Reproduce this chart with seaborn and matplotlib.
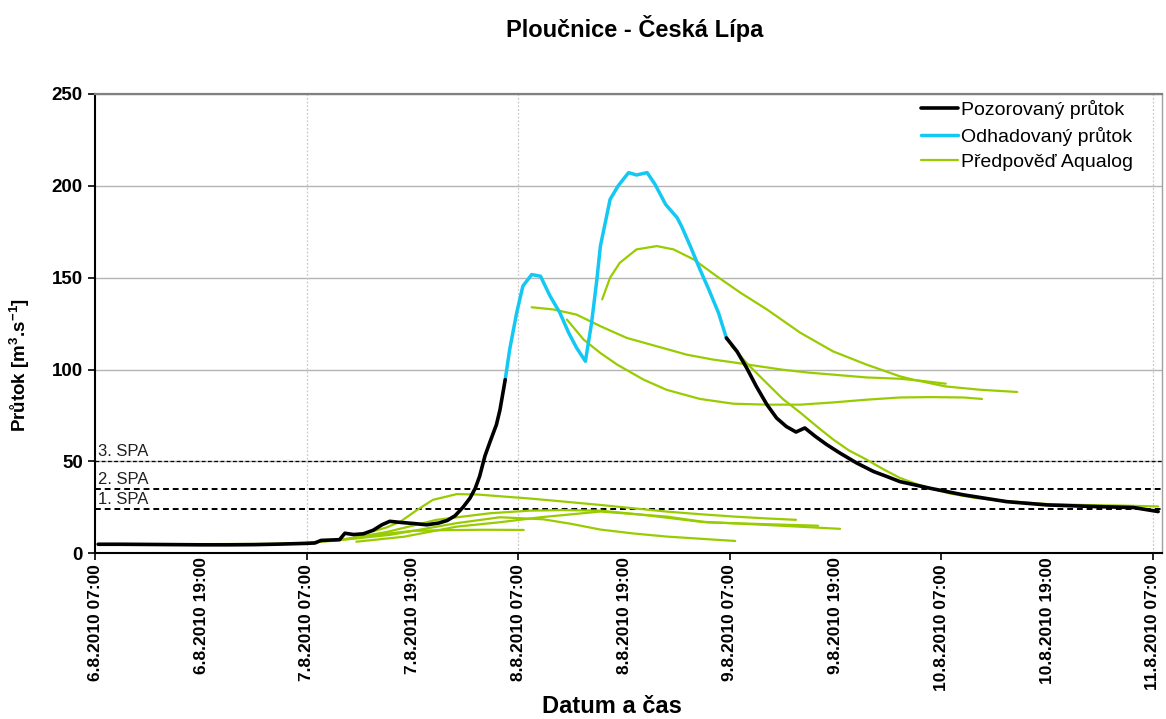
import matplotlib
matplotlib.use('Agg')
import matplotlib.pyplot as plt
import matplotlib.ticker as mticker
import matplotlib.dates as mdates
from matplotlib.lines import Line2D
import seaborn as sns
import pandas as pd

# Start of the time axis (6.8.2010 07:00); all times below are hours from it
START = pd.Timestamp('2010-08-06 07:00')

# Observed flow (black), two segments around the estimated part
obs1_h = [0.3, 3, 6, 9, 12, 15, 18, 21, 24, 24.9, 25.6, 27.7, 28.3, 29.3, 30.4, 31.5,
          32.5, 33.4, 34.6, 36.1, 37.6, 38.9, 39.9, 40.8, 41.7, 42.5, 43.1, 43.6,
          44.2, 44.8, 45.5, 45.9, 46.5]
obs1_q = [4.9, 4.9, 4.8, 4.7, 4.6, 4.6, 4.7, 5.0, 5.4, 5.6, 7.0, 7.4, 10.9, 10.2, 10.6, 12.5,
          15.5, 17.4, 16.8, 16.2, 15.5, 16.4, 17.8, 20.4, 25.0, 30.0, 35.4, 42.0,
          53.0, 61.0, 70.0, 78.0, 94.5]
obs2_h = [71.6, 72.8, 73.9, 75.0, 76.2, 77.3, 78.4, 79.5, 80.5, 81.7, 83.0, 84.5, 86.4,
          88.3, 89.8, 91.3, 94.7, 98.5, 103.4, 108.0, 113.6, 117.8, 120.6]
obs2_q = [117.2, 109.9, 100.9, 90.8, 80.9, 73.6, 69.0, 66.0, 68.2, 63.6, 59.1, 54.5, 49.1,
          44.5, 41.8, 39.0, 35.4, 31.8, 28.1, 26.3, 25.4, 24.9, 22.7]

# Estimated flow (light blue)
est_h = [46.5, 47.0, 47.8, 48.5, 49.5, 50.5, 51.6, 52.7, 53.7, 54.6, 55.6, 56.3, 56.9,
         57.3, 58.4, 59.3, 60.5, 61.4, 62.6, 63.5, 64.7, 66.0, 66.5, 67.5, 68.6, 69.6,
         70.7, 71.6]
est_q = [94.5, 110.8, 130.9, 145.4, 151.7, 150.8, 139.9, 130.9, 120.0, 111.8, 104.5, 125.4,
         149.0, 167.2, 192.6, 199.9, 207.2, 205.9, 207.2, 200.8, 189.9, 182.7, 178.1,
         167.2, 154.5, 143.6, 130.9, 117.2]

# Aqualog forecasts (green)
fc1_h = [0.3, 12, 20, 24, 27, 30, 33, 36, 40, 44, 48.6]
fc1_q = [5.0, 5.0, 5.1, 5.7, 6.8, 8.5, 10.6, 12.2, 12.6, 12.8, 12.7]
fc2_h = [24.5, 29, 33.4, 37, 41, 45.9, 50.8, 54, 57.3, 61, 64.8, 69, 72.6]
fc2_q = [6.0, 7.8, 10.0, 13.0, 16.4, 19.6, 18.5, 16.0, 12.9, 10.8, 9.1, 7.8, 6.7]
fc3_h = [31.5, 33, 34.6, 36.5, 38.3, 41, 43.3, 46, 49.3, 53, 57.3, 61, 64.8, 68.5,
         72.4, 76, 79.5]
fc3_q = [12.0, 14.0, 17.2, 23.6, 29.1, 32.2, 32.0, 31.0, 29.8, 28.2, 26.3, 24.5, 22.7,
         21.3, 20.0, 19.0, 18.2]
fc4_h = [28, 33, 38.7, 44.8, 49.3, 53, 57.3, 62, 68.6, 76.2, 84.5]
fc4_q = [7.5, 11.5, 18.2, 21.8, 23.2, 23.5, 23.2, 21.0, 17.2, 15.4, 13.3]
fc5_h = [29.6, 35, 41, 45.9, 50.5, 57.3, 64.8, 69.4, 75, 82]
fc5_q = [6.3, 9.0, 14.5, 16.9, 19.6, 22.7, 20.0, 16.8, 16.0, 15.0]
fc6_h = [49.5, 52.0, 54.6, 57.3, 60.3, 63.0, 67.1, 70, 72.4, 75, 78.0, 81, 83.8, 87.5,
         91.3, 93.5, 96.5]
fc6_q = [133.9, 132.7, 129.9, 123.6, 117.2, 113.6, 108.1, 105.5, 103.9, 102, 99.9, 98.3,
         97.2, 95.7, 95.0, 94.0, 92.3]
fc7_h = [53.5, 55.4, 57.3, 59.2, 62.2, 64.8, 68.6, 72.4, 76.2, 80.0, 83.7, 87.5, 91.3,
         94.8, 98.5, 100.6]
fc7_q = [127.2, 116.3, 109.0, 102.7, 94.5, 89.0, 84.0, 81.4, 80.9, 80.9, 82.1, 83.6, 84.8,
         85.0, 84.8, 84.0]
fc8_h = [57.5, 58.4, 59.5, 61.4, 63.7, 65.6, 67.9, 70.5, 73.2, 76.2, 80.0, 83.7, 87.5,
         91.3, 92.8, 96.5, 100.4, 104.6]
fc8_q = [138.2, 150.0, 158.1, 165.4, 167.2, 165.4, 159.9, 150.8, 141.8, 132.7, 120.0, 109.9,
         102.7, 96.3, 94.5, 90.8, 89.0, 87.8]
fc9_h = [72.2, 74, 76.2, 78, 80.0, 82, 83.7, 85.5, 87.5, 89.5, 91.3, 93, 94.7, 97, 100,
         104, 108, 112, 116, 120.6]
fc9_q = [112.7, 103, 92.5, 84, 76.5, 68.5, 62.0, 56, 51.0, 45.5, 41.0, 38, 35.4, 32.5, 30.0,
         28.2, 26.8, 26.3, 26.0, 25.5]

# Flood activity levels (SPA)
spa_levels = [24, 35, 50]
spa_labels = ['1. SPA', '2. SPA', '3. SPA']

# Dates with a vertical guide line
guide_times = ['2010-08-07 07:00', '2010-08-08 07:00', '2010-08-11 07:00']

legend_labels = ['Pozorovaný průtok', 'Odhadovaný průtok', 'Předpověď Aqualog']


def frame(runs):
    parts = []
    for i, (h, q) in enumerate(runs):
        parts.append(pd.DataFrame({'time': START + pd.to_timedelta(h, unit='h'),
                                   'flow': q, 'run': i}))
    return pd.concat(parts, ignore_index=True)


obs_df = frame([(obs1_h, obs1_q), (obs2_h, obs2_q)])
est_df = frame([(est_h, est_q)])
fc_df = frame([(fc1_h, fc1_q), (fc2_h, fc2_q), (fc3_h, fc3_q), (fc4_h, fc4_q),
               (fc5_h, fc5_q), (fc6_h, fc6_q), (fc7_h, fc7_q), (fc8_h, fc8_q),
               (fc9_h, fc9_q)])

sns.set_style('white')
plt.rcParams['font.family'] = ['Liberation Sans', 'DejaVu Sans']
plt.rcParams['text.color'] = 'black'
plt.rcParams['xtick.color'] = 'black'
plt.rcParams['ytick.color'] = 'black'
plt.rcParams['mathtext.fontset'] = 'custom'
plt.rcParams['mathtext.bf'] = 'Liberation Sans:bold'
plt.rcParams['mathtext.rm'] = 'Liberation Sans'

GREEN = '#99CC00'
BLUE = '#14C8F4'

fig = plt.figure(figsize=(11.66, 7.19), dpi=100)
ax = fig.add_axes([0.0819, 0.2305, 0.9144, 0.6388])

sns.lineplot(data=fc_df, x='time', y='flow', units='run', estimator=None, sort=False,
             color=GREEN, linewidth=1.6, ax=ax, zorder=3)
sns.lineplot(data=est_df, x='time', y='flow', units='run', estimator=None, sort=False,
             color=BLUE, linewidth=2.5, ax=ax, zorder=4)
sns.lineplot(data=obs_df, x='time', y='flow', units='run', estimator=None, sort=False,
             color='black', linewidth=2.6, ax=ax, zorder=5)

# horizontal grid
ax.set_ylim(0, 250)
ax.set_yticks([0, 50, 100, 150, 200, 250])
ax.yaxis.grid(True, color='#b4b4b4', linewidth=1)
ax.xaxis.grid(False)
for t in guide_times:
    ax.axvline(pd.Timestamp(t), color='#c8c8c8', linestyle=(0, (1.5, 1.5)), linewidth=0.9,
               zorder=1)

# SPA levels
for lvl, lab in zip(spa_levels, spa_labels):
    lw = 0.9 if lvl == 50 else 1.4
    ax.axhline(lvl, color='black', linestyle=(0, (3, 2)), linewidth=lw, zorder=2)
    ax.annotate(lab, xy=(0, lvl), xycoords=('axes fraction', 'data'),
                xytext=(1.5, 1.5), textcoords='offset points', fontsize=12,
                color='#202020', va='bottom', ha='left', zorder=6)

# x axis
ax.set_xlim(START, START + pd.Timedelta(hours=121))
major = [START + pd.Timedelta(hours=24 * k) for k in range(6)]
minor = [START + pd.Timedelta(hours=12 + 24 * k) for k in range(5)]
ax.set_xticks(major)
ax.set_xticks(minor, minor=True)


def fmt_date(x, pos=None):
    d = mdates.num2date(x)
    return f'{d.day}.{d.month}.{d.year} {d:%H:%M}'


ax.xaxis.set_major_formatter(mticker.FuncFormatter(fmt_date))
ax.xaxis.set_minor_formatter(mticker.FuncFormatter(fmt_date))
ax.tick_params(axis='x', which='both', rotation=90, labelsize=12.5, pad=3)
ax.tick_params(axis='x', which='major', length=5, width=1.2, color='black', direction='out',
               bottom=True)
ax.tick_params(axis='x', which='minor', length=0, bottom=True)
ax.tick_params(axis='y', length=5, width=1.2, color='black', direction='out', left=True,
               labelsize=13.5, pad=4)
for lab in ax.get_xticklabels(which='both') + ax.get_yticklabels():
    lab.set_fontweight('bold')

ax.set_xlabel('')
ax.set_ylabel('')

for side in ['left', 'bottom']:
    ax.spines[side].set_color('black')
    ax.spines[side].set_linewidth(1.5)
ax.spines['top'].set_color('#808080')
ax.spines['top'].set_linewidth(1.6)
ax.spines['right'].set_color('#a0a0a0')
ax.spines['right'].set_linewidth(1.0)

handles = [Line2D([], [], color='black', linewidth=2.6),
           Line2D([], [], color=BLUE, linewidth=2.5),
           Line2D([], [], color=GREEN, linewidth=1.6)]
ax.legend(handles, legend_labels, loc='upper right', bbox_to_anchor=(0.984, 1.012),
          frameon=False, fontsize=14, handlelength=1.9, handletextpad=0.15,
          labelspacing=0.38, borderaxespad=0.2)

fig.text(0.5446, 0.961, 'Ploučnice - Česká Lípa', ha='center', va='center',
         fontsize=17, fontweight='bold')
fig.text(0.525, 0.0167, 'Datum a čas', ha='center', va='center', fontsize=17,
         fontweight='bold')
fig.text(0.0172, 0.4923, r'Průtok [m$^{\mathbf{3}}$.s$^{\mathbf{-1}}$]', ha='center',
         va='center', rotation=90, fontsize=13.5, fontweight='bold')

fig.savefig('out.png', dpi=100)
